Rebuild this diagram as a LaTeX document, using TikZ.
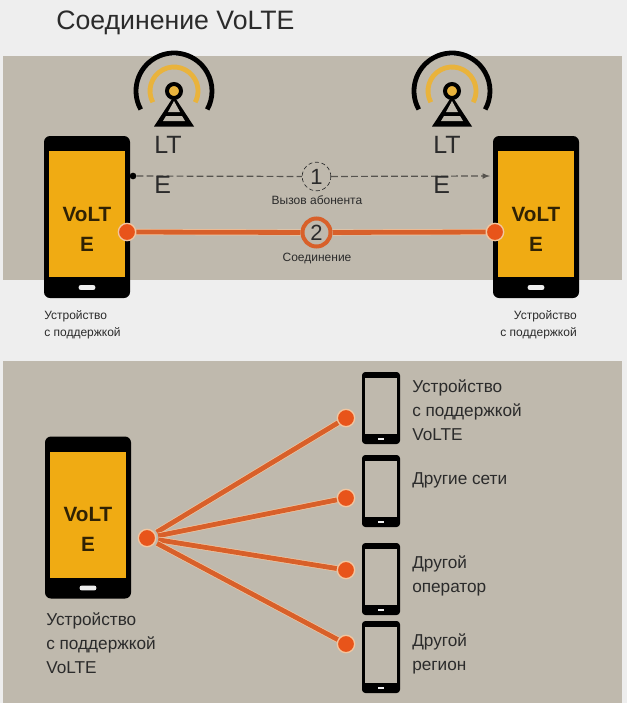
\documentclass[tikz,border=0pt]{standalone}
\usepackage{xcolor}
\usepackage{fontspec}
\setmainfont{Liberation Sans}

\definecolor{pagebg}{HTML}{EEEEEE}
\definecolor{panelbg}{HTML}{BFB9AD}
\definecolor{screenyellow}{HTML}{F0AB13}
\definecolor{arcyellow}{HTML}{E9B33C}
\definecolor{linkorange}{HTML}{D8602A}
\definecolor{dotorange}{HTML}{E8541A}
\definecolor{halo}{HTML}{F2C6A0}
\definecolor{inktext}{HTML}{2B2B2B}

\tikzset{
    phonebig/.style={fill=black, rounded corners=4.5pt, inner sep=0pt, minimum width=64.5pt, minimum height=121.5pt},
    screenbig/.style={fill=screenyellow, inner sep=0pt, minimum width=57pt, minimum height=94.5pt},
    buttonbig/.style={fill=pagebg, rounded corners=1.5pt, inner sep=0pt, minimum width=12.5pt, minimum height=3.6pt},
    phonesmall/.style={fill=black, rounded corners=2.5pt, inner sep=0pt, minimum width=28.5pt, minimum height=54pt},
    screensmall/.style={fill=panelbg, inner sep=0pt, minimum width=24pt, minimum height=42pt},
    buttonsmall/.style={fill=pagebg, inner sep=0pt, minimum width=5.2pt, minimum height=1.4pt},
    dot/.style={circle, fill=dotorange, draw=halo, line width=1pt, inner sep=0pt, minimum size=13pt},
    link/.style={draw=linkorange, line width=3.6pt, preaction={draw=halo, line width=4.6pt}},
    volte/.style={font=\fontsize{15.5}{22.5}\selectfont\bfseries, text=black!80!screenyellow, align=center, inner sep=0pt},
    tiny/.style={font=\fontsize{9}{12.75}\selectfont, text=inktext, inner sep=0pt},
    small/.style={font=\fontsize{12.9}{18}\selectfont, text=inktext, inner sep=0pt, align=left},
    lte/.style={font=\fontsize{18.75}{30}\selectfont, text=inktext, inner sep=0pt, align=left},
    calldash/.style={draw=black!55!panelbg, line width=0.9pt, dash pattern=on 5pt off 2.5pt}
}

\begin{document}
\begin{tikzpicture}[x=0.75pt, y=-0.75pt]
    \useasboundingbox (0,0) rectangle (627,703);
    \fill[pagebg] (0,0) rectangle (627,703);
    \fill[panelbg] (3,56) rectangle (622,280);
    \fill[panelbg] (3,361) rectangle (622,703);

    \node[anchor=base west, inner sep=0pt, font=\fontsize{20}{24}\selectfont, text=inktext] (title) at (56,29) {Соединение VoLTE};

    \foreach \tx/\tname in {174/towerl, 452/towerr} {
        \draw[arcyellow, line width=3.6pt] (\tx,91) +(152:24) arc[start angle=152, end angle=388, radius=24];
        \draw[black, line width=3.6pt] (\tx,91) +(151:38) arc[start angle=151, end angle=389, radius=38];
        \fill[black] (\tx,96) -- (\tx-20,126.5) -- (\tx+20,126.5) -- cycle;
        \fill[panelbg] (\tx,101) -- (\tx-6,112) -- (\tx+6,112) -- cycle;
        \fill[panelbg] (\tx-8,116) -- (\tx+8,116) -- (\tx+11,121) -- (\tx-11,121) -- cycle;
        \node[circle, fill=arcyellow, draw=black, line width=3pt, inner sep=0pt, minimum size=10.5pt] (\tname) at (\tx,91) {};
    }

    \foreach \px/\py/\pname in {87/217/left, 536/217/right, 88/517.5/main} {
        \node[phonebig] (phone\pname) at (\px,\py) {};
        \node[screenbig] (screen\pname) at (\px,\py-3) {};
        \node[buttonbig] (button\pname) at (\px,\py+70.5) {};
    }

    \node[circle, fill=black, inner sep=0pt, minimum size=5pt] (start) at (133,176) {};
    \node[circle, draw=inktext, densely dashed, fill=panelbg, line width=0.5pt, inner sep=0pt, minimum size=21.5pt, font=\fontsize{16.5}{18}\selectfont, text=inktext] (call) at (316.5,176.5) {1};
    \coordinate (arrive) at (490,176);
    \draw[calldash] (start) -- (call);
    \draw[calldash, -latex] (call) -- (arrive);

    \node[lte, anchor=north west] (ltel) at (154,136) {LT\\E};
    \node[lte, anchor=north west] (lter) at (433,136) {LT\\E};

    \node[volte] (voltel) at (87,229) {VoLT\\E};
    \node[volte] (volter) at (536,229) {VoLT\\E};
    \node[volte] (voltem) at (88,529.5) {VoLT\\E};

    \node[dot] (dotl) at (127,232) {};
    \node[dot] (dotr) at (495,232) {};
    \node[circle, draw=linkorange, fill=panelbg, line width=3pt, inner sep=0pt, minimum size=21pt, font=\fontsize{16.5}{18}\selectfont, text=inktext] (link) at (316.5,232.5) {2};
    \draw[link] (dotl) -- (link);
    \draw[link] (link) -- (dotr);

    \node[tiny, anchor=base] (calltext) at (317,204) {Вызов абонента};
    \node[tiny, anchor=base] (linktext) at (317,261) {Соединение};
    \node[tiny, align=left, anchor=north west] (devl) at (44,310) {Устройство\\с поддержкой};
    \node[tiny, align=right, anchor=north east] (devr) at (577,310) {Устройство\\с поддержкой};

    \foreach \py/\pname in {408/a, 491/b, 579/c, 657/d} {
        \node[phonesmall] (small\pname) at (381,\py) {};
        \node[screensmall] (smallscreen\pname) at (381,\py-2) {};
        \node[buttonsmall] (smallbutton\pname) at (381,\py+31) {};
    }

    \node[dot] (hub) at (147,538) {};
    \foreach \ty/\tname in {418/a, 498/b, 570/c, 644/d} {
        \node[dot] (fan\tname) at (346,\ty) {};
        \draw[link, shorten <=1.5pt] (hub) -- (fan\tname);
    }

    \node[small, anchor=north west] (devmain) at (46,612) {Устройство\\с поддержкой\\VoLTE};
    \node[small, anchor=north west] (texta) at (412,379) {Устройство\\с поддержкой\\VoLTE};
    \node[small, anchor=north west] (textb) at (412,472) {Другие сети};
    \node[small, anchor=north west] (textc) at (412,555) {Другой\\оператор};
    \node[small, anchor=north west] (textd) at (412,633) {Другой\\регион};
\end{tikzpicture}
\end{document}
